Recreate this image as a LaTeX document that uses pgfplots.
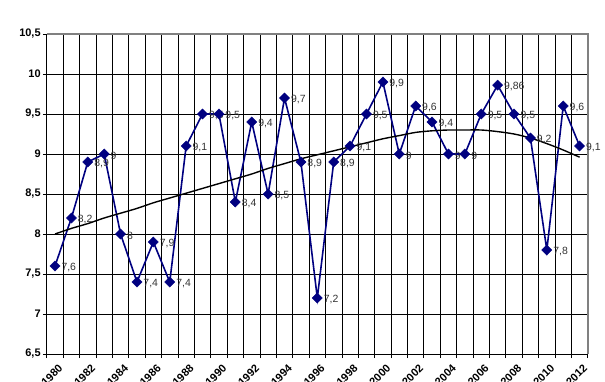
\documentclass[border=0pt]{standalone}
\usepackage{pgfplots}
\pgfplotsset{compat=1.18}
\usepackage{pgfplotstable}
\usepackage{fontspec}
\setmainfont{Liberation Sans}
\definecolor{navy}{HTML}{000080}

\pgfplotstableread{
x y lab
0 7.6 7,6
1 8.2 8,2
2 8.9 8,9
3 9.0 9
4 8.0 8
5 7.4 7,4
6 7.9 7,9
7 7.4 7,4
8 9.1 9,1
9 9.5 9,5
10 9.5 9,5
11 8.4 8,4
12 9.4 9,4
13 8.5 8,5
14 9.7 9,7
15 8.9 8,9
16 7.2 7,2
17 8.9 8,9
18 9.1 9,1
19 9.5 9,5
20 9.9 9,9
21 9.0 9
22 9.6 9,6
23 9.4 9,4
24 9.0 9
25 9.0 9
26 9.5 9,5
27 9.86 9,86
28 9.5 9,5
29 9.2 9,2
30 7.8 7,8
31 9.6 9,6
32 9.1 9,1
}\datatable

\pgfplotstableread{
x y
0 8.00
1 8.07
2 8.13
3 8.20
4 8.26
5 8.32
6 8.39
7 8.45
8 8.51
9 8.57
10 8.63
11 8.69
12 8.75
13 8.82
14 8.88
15 8.94
16 8.99
17 9.04
18 9.09
19 9.14
20 9.19
21 9.23
22 9.27
23 9.29
24 9.30
25 9.30
26 9.30
27 9.28
28 9.25
29 9.20
30 9.13
31 9.05
32 8.96
}\trendtable

\begin{document}
\begin{tikzpicture}[x=1bp,y=1bp]
\useasboundingbox (0,0) rectangle (605,381);
\begin{axis}[
  at={(46.8bp,27bp)}, anchor=south west,
  scale only axis, width=541bp, height=320bp,
  xmin=-0.5, xmax=32.5, ymin=6.5, ymax=10.5,
  xtick={0,2,...,32},
  xticklabels={1980,1982,1984,1986,1988,1990,1992,1994,1996,1998,2000,2002,2004,2006,2008,2010,2012},
  major x tick style={draw=none},
  minor xtick={-0.5,0.5,...,32.5},
  minor x grid style={black, line width=0.8pt},
  xminorgrids,
  minor tick length=4bp,
  ytick={6.5,7,...,10.5},
  ymajorgrids,
  major y grid style={black, line width=0.8pt},
  major tick length=4bp,
  tick align=outside,
  tick style={black, line width=0.8pt},
  axis line style={black, line width=0.8pt},
  axis x line*=bottom, axis y line*=left,
  /pgf/number format/.cd, use comma, fixed, assume math mode=true,
  /pgfplots/.cd,
  yticklabel style={font=\bfseries\fontsize{11}{12}\selectfont, inner sep=2bp},
  xticklabel style={font=\bfseries\fontsize{11}{12}\selectfont, rotate=45, anchor=north east, yshift=-5bp, xshift=-1bp, inner sep=1bp},
  clip=false,
]
\draw[gray, line width=1.6pt] (rel axis cs:0,1) -- (rel axis cs:1,1) -- (rel axis cs:1,0);
\addplot[navy, line width=1.6pt, mark=square*, mark size=3.6bp,
  mark options={rotate=45, fill=navy, draw=navy, line width=0.4pt},
  point meta=explicit symbolic, nodes near coords,
  every node near coord/.append style={anchor=west, xshift=3bp, yshift=-1.5bp,
    font=\fontsize{10.5}{12}\selectfont, text=black!80}]
  table[x=x, y=y, meta=lab] \datatable;
\addplot[black, line width=1.4pt, smooth, no marks] table[x=x, y=y] \trendtable;
\end{axis}
\end{tikzpicture}
\end{document}
